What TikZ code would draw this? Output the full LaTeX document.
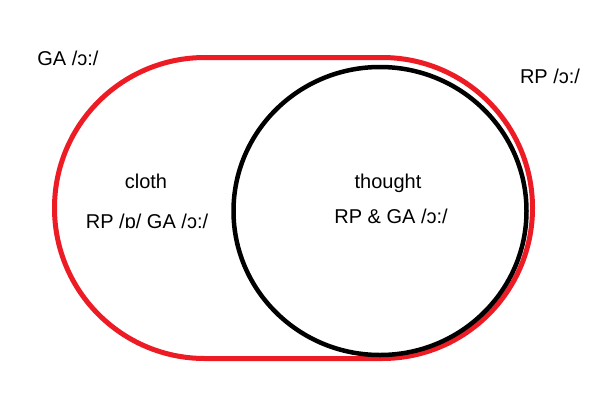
\documentclass[tikz,border=0pt]{standalone}
\usepackage{fontspec}
\setmainfont{Liberation Sans}
\usepackage{xcolor}
\definecolor{paintred}{RGB}{237,28,36}

\begin{document}
\begin{tikzpicture}[x=1pt,y=-1pt,
    lbl/.style={anchor=base,inner sep=0pt,font=\fontsize{20}{24}\selectfont},
    setline/.style={line width=5pt}]
            \useasboundingbox (0,0) rectangle (600,400);
            % the two sets
            \draw[setline,paintred,rounded corners=150.4pt] (54.5,57.5) rectangle (532.5,358.5);
            \draw[setline,line width=4.5pt] (380,211) ellipse [x radius=146.5,y radius=144];
            % labels
            \node[lbl] (ga) at (68,65) {GA /ɔ:/};
            \node[lbl] (rp) at (550,83) {RP /ɔ:/};
            \node[lbl] (cloth) at (146,188) {cloth};
            \node[lbl] (clothvow) at (147,228) {RP /ɒ/ GA /ɔ:/};
            \node[lbl] (thought) at (388,188) {thought};
            \node[lbl] (thoughtvow) at (391,223) {RP \& GA /ɔ:/};
\end{tikzpicture}
\end{document}
